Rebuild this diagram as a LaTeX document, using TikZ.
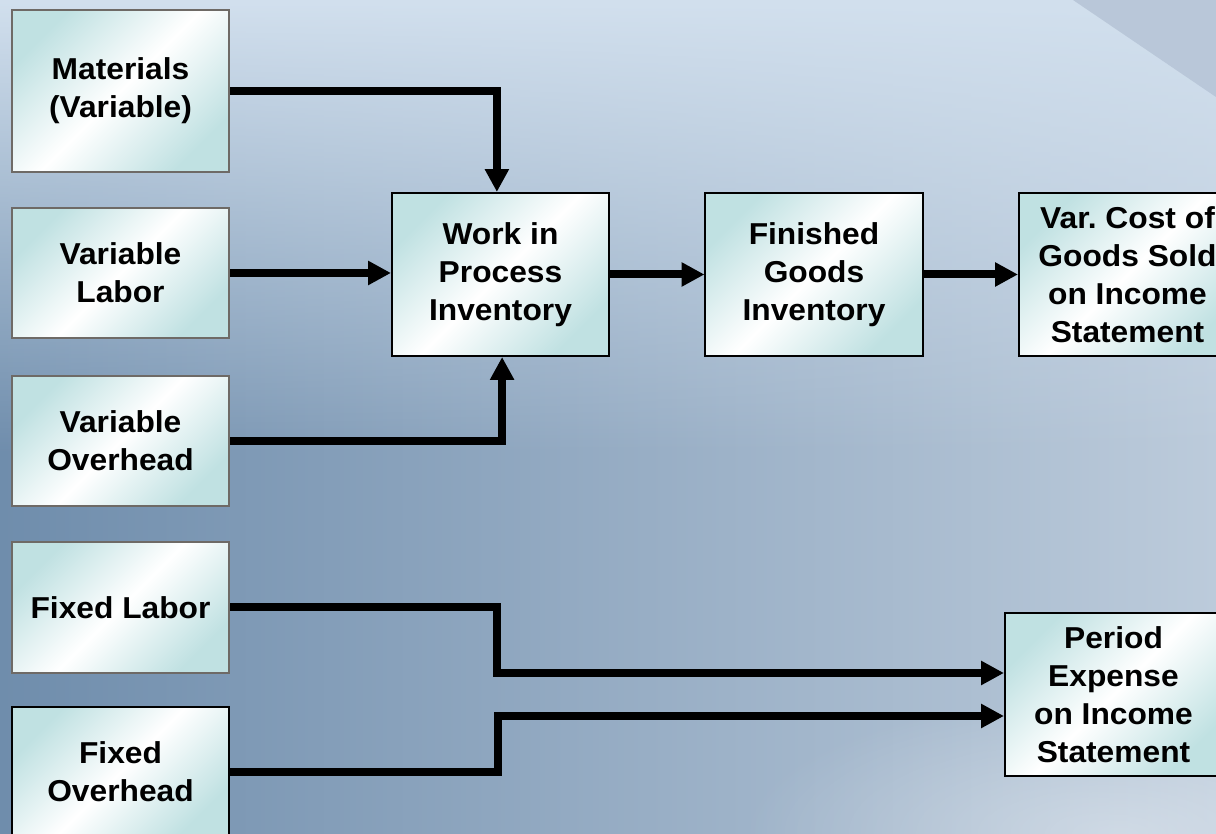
\documentclass[tikz,border=0pt]{standalone}
\usepackage{fontspec}
\newfontfamily\boxfont[FakeStretch=1.05]{Liberation Sans}
\usetikzlibrary{arrows.meta,fadings}

\definecolor{bgdark}{HTML}{6F8DAC}
\definecolor{bglight}{HTML}{BCCBDB}
\definecolor{bgtop}{HTML}{D2E0EE}
\definecolor{bgwedge}{HTML}{B9C7D9}
\definecolor{boxcyan}{HTML}{C0E1E2}
\definecolor{boxgray}{HTML}{6E6A66}

\tikzfading[name=fadetop, top color=transparent!0, bottom color=transparent!100]
\tikzfading[name=softblob, inner color=transparent!0, outer color=transparent!100]

\begin{document}
\frenchspacing
\begin{tikzpicture}[
  x=0.025cm, y=0.025cm,
  every node/.style={align=center, inner sep=2pt},
  costbox/.style={rectangle, draw=boxgray, line width=0.05cm,
                  top color=boxcyan, bottom color=boxcyan, middle color=white,
                  shading angle=45,
                  minimum width=5.425cm, minimum height=3.25cm,
                  font=\boxfont\bfseries\fontsize{21.5}{27}\selectfont},
  stockbox/.style={costbox, draw=black, minimum height=4.075cm},
  flow/.style={line width=0.2cm, line join=miter,
               -{Triangle[length=0.57cm,width=0.57cm]}}
]
\useasboundingbox (0,0) rectangle (1216,834);
\clip (0,0) rectangle (1216,834);

% BACKGROUND
\shade[left color=bgdark, right color=bglight] (0,0) rectangle (1216,834);
\fill[bgtop, path fading=fadetop] (0,380) rectangle (1216,834);
\fill[bgwedge] (1073,834) -- (1216,834) -- (1216,737) -- cycle;
\fill[white, opacity=0.35, path fading=softblob] (1120,0) ellipse [x radius=380, y radius=140];

% COST INPUTS
\node[costbox, minimum height=4.05cm] (mat) at (120.5,743) {Materials\\(Variable)};
\node[costbox] (vlab) at (120.5,561)   {Variable\\Labor};
\node[costbox] (voh)  at (120.5,393)   {Variable\\Overhead};
\node[costbox] (flab) at (120.5,226.5) {Fixed Labor};
\node[costbox, draw=black] (foh) at (120.5,62) {Fixed\\Overhead};

% INVENTORIES AND STATEMENT
\node[stockbox] (wip)  at (500.5,559.5)  {Work in\\Process\\Inventory};
\node[stockbox] (fg)   at (814,559.5)    {Finished\\Goods\\Inventory};
\node[stockbox] (cogs) at (1127.5,559.5) {Var. Cost of\\Goods Sold\\on Income\\Statement};
\node[stockbox] (pe)   at (1113.5,139.5) {Period\\Expense\\on Income\\Statement};

% FLOWS
\coordinate (bendA) at (497,161);
\coordinate (bendB) at (498,118);
\draw[flow] (mat.east) -| ([xshift=-0.09cm]wip.north);
\draw[flow] (vlab.east) -- (vlab.east -| wip.west);
\draw[flow] (voh.east) -| ([xshift=0.04cm]wip.south);
\draw[flow] (wip.east) -- (fg.west);
\draw[flow] (fg.east) -- (fg.east -| cogs.west);
\draw[flow] (flab.east) -| (bendA) -- (bendA -| pe.west);
\draw[flow] (foh.east) -| (bendB) -- (bendB -| pe.west);
\end{tikzpicture}
\end{document}
